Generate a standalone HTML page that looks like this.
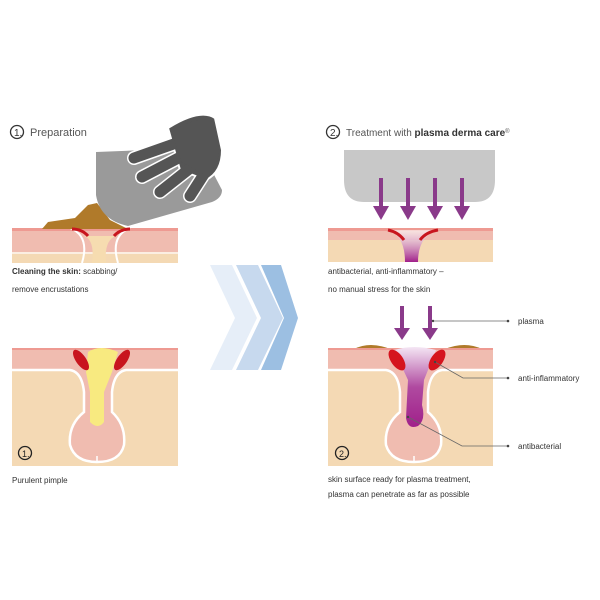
<!DOCTYPE html>
<html><head><meta charset="utf-8"><style>
body{margin:0;background:#fff;}
svg{display:block;font-family:"Liberation Sans",sans-serif;}
</style></head><body>
<svg width="600" height="600" viewBox="0 0 600 600" xmlns="http://www.w3.org/2000/svg">
<defs>
<linearGradient id="pl" x1="0" y1="0" x2="0" y2="1"><stop offset="0" stop-color="#fff" stop-opacity="0.6"/><stop offset="1" stop-color="#a0208a"/></linearGradient>
<linearGradient id="pl2" x1="0" y1="0" x2="0" y2="1"><stop offset="0" stop-color="#f4e6f4"/><stop offset="0.5" stop-color="#b04aa0"/><stop offset="1" stop-color="#a0208a"/></linearGradient>
</defs>

<circle cx="17" cy="132" r="6.5" fill="none" stroke="#333" stroke-width="1.3"/>
<text x="14" y="136" font-size="10" fill="#333">1.</text>
<text x="30" y="136" font-size="11" fill="#555">Preparation</text>
<circle cx="333" cy="132" r="6.5" fill="none" stroke="#333" stroke-width="1.3"/>
<text x="330" y="136" font-size="10" fill="#333">2.</text>
<text x="346" y="136" font-size="10" fill="#555">Treatment with <tspan font-weight="bold" fill="#333">plasma derma care</tspan><tspan font-size="6" dy="-3">®</tspan></text>

<rect x="12" y="228" width="166" height="35" fill="#f4d9b4"/>
<rect x="12" y="228" width="166" height="24" fill="#f0bcb0"/>
<rect x="12" y="228" width="166" height="3" fill="#ee9a92"/>
<rect x="12" y="252" width="166" height="2" fill="#fbeee2"/>
<path d="M84 236 Q95 240 92 263 L106 263 Q104 240 116 236 Z" fill="#f6dcb0"/>
<path d="M70 228 Q90 236 82 263" fill="none" stroke="#fff" stroke-width="2"/>
<path d="M130 228 Q110 236 118 263" fill="none" stroke="#fff" stroke-width="2"/>
<path d="M42 229 L48 222 L75 218 L88 205 L97 203 L110 220 L128 229 Z" fill="#b07a2a"/>
<path d="M72 229 Q82 229 88 236" fill="none" stroke="#c8151e" stroke-width="3"/>
<path d="M114 236 Q120 229 130 229" fill="none" stroke="#c8151e" stroke-width="3"/>
<path d="M96 152 L200 148 L222 190 Q222 198 212 202 L128 226 Q100 220 96 195 Z" fill="#9a9a9a"/>
<g stroke-linecap="round" fill="none">
<g stroke="#fff" stroke-width="14">
<path d="M185 140 L134 158"/><path d="M190 152 L142 177"/><path d="M198 162 L160 192"/><path d="M208 168 L190 196"/>
</g>
<path d="M168 128 Q200 108 215 118 L222 150 Q222 172 206 180 L180 170 Z" fill="#555" stroke="#fff" stroke-width="2"/>
<g stroke="#555" stroke-width="11">
<path d="M185 140 L134 158"/><path d="M190 152 L142 177"/><path d="M198 162 L160 192"/><path d="M208 168 L190 196"/>
</g>
<path d="M172 132 Q200 114 213 122 L219 150 Q218 168 205 175 L182 162 Z" fill="#555"/>
</g>

<text x="12" y="274" font-size="8" fill="#333"><tspan font-weight="bold">Cleaning the skin:</tspan> scabbing/</text>
<text x="12" y="292" font-size="8" fill="#333">remove encrustations</text>

<path d="M210 265 L232 265 L257 318 L232 370 L210 370 L235 318 Z" fill="#e6eef8"/>
<path d="M236 265 L258 265 L283 318 L258 370 L236 370 L261 318 Z" fill="#c7d9ee"/>
<path d="M261 265 L281 265 L298 318 L281 370 L261 370 L284 318 Z" fill="#9cbfe2"/>

<rect x="12" y="348" width="166" height="118" fill="#f4d9b4"/>
<rect x="12" y="348" width="166" height="22" fill="#f0bcb0"/>
<rect x="12" y="348" width="166" height="2" fill="#ee9a92"/>
<path d="M12 370 L70 370 Q82 372 84 392 L84 412 Q68 425 70 445 Q75 462 97 462 Q120 462 124 445 Q126 425 112 412 L112 392 Q114 372 126 370 L178 370" fill="#f0bcb0" stroke="#fff" stroke-width="2.5"/>
<path d="M97 462 L97 456" stroke="#fff" stroke-width="1.5"/>
<path d="M88 352 Q100 344 118 352 L112 372 L104 392 L104 422 Q98 430 90 422 L90 392 L86 372 Z" fill="#f8ea80"/>
<ellipse cx="81" cy="360" rx="5" ry="12" transform="rotate(-35 81 360)" fill="#c8151e"/>
<ellipse cx="122" cy="360" rx="5" ry="12" transform="rotate(35 122 360)" fill="#c8151e"/>
<circle cx="25" cy="453" r="6.5" fill="none" stroke="#222" stroke-width="1.3"/>
<text x="22" y="457" font-size="9" fill="#222">1.</text>
<text x="12" y="483" font-size="8" fill="#333">Purulent pimple</text>

<path d="M344 150 L495 150 L495 180 Q495 202 475 202 L364 202 Q344 202 344 180 Z" fill="#c8c8c8"/>
<g fill="#8a3a8a">
<rect x="379" y="178" width="4" height="30"/><path d="M373 206 L389 206 L381 220 Z"/>
<rect x="406" y="178" width="4" height="30"/><path d="M400 206 L416 206 L408 220 Z"/>
<rect x="433" y="178" width="4" height="30"/><path d="M427 206 L443 206 L435 220 Z"/>
<rect x="460" y="178" width="4" height="30"/><path d="M454 206 L470 206 L462 220 Z"/>
</g>
<rect x="328" y="228" width="165" height="34" fill="#f4d9b4"/>
<rect x="328" y="228" width="165" height="12" fill="#f0bcb0"/>
<rect x="328" y="228" width="165" height="3" fill="#ee9a92"/>
<path d="M388 230 Q405 236 405 262 L418 262 Q418 236 438 230 Z" fill="url(#pl)"/>
<path d="M388 230 Q398 232 404 240" fill="none" stroke="#c8151e" stroke-width="3"/>
<path d="M438 230 Q426 232 420 240" fill="none" stroke="#c8151e" stroke-width="3"/>
<text x="328" y="274" font-size="8" fill="#333">antibacterial, anti-inflammatory –</text>
<text x="328" y="292" font-size="8" fill="#333">no manual stress for the skin</text>

<g fill="#8a3a8a">
<rect x="400" y="306" width="4" height="24"/><path d="M394 328 L410 328 L402 340 Z"/>
<rect x="428" y="306" width="4" height="24"/><path d="M422 328 L438 328 L430 340 Z"/>
</g>
<rect x="328" y="348" width="165" height="118" fill="#f4d9b4"/>
<path d="M354 349 Q370 341 390 349 Z" fill="#b07a2a"/>
<path d="M445 349 Q465 341 482 349 Z" fill="#b07a2a"/>
<rect x="328" y="348" width="165" height="22" fill="#f0bcb0"/>
<rect x="328" y="348" width="165" height="2" fill="#ee9a92"/>
<path d="M328 370 L386 370 Q398 372 400 392 L400 412 Q384 425 386 445 Q391 462 414 462 Q437 462 441 445 Q443 425 428 412 L428 392 Q430 372 442 370 L493 370" fill="#f0bcb0" stroke="#fff" stroke-width="2.5"/>
<path d="M414 462 L414 456" stroke="#fff" stroke-width="1.5"/>
<path d="M394 350 Q414 344 436 350 L424 380 L422 405 Q426 420 418 426 Q408 430 406 418 L408 380 Z" fill="url(#pl2)"/>
<ellipse cx="397" cy="360" rx="6" ry="12" transform="rotate(-35 397 360)" fill="#d5141e"/>
<ellipse cx="437" cy="360" rx="6" ry="12" transform="rotate(35 437 360)" fill="#d5141e"/>
<circle cx="342" cy="453" r="6.5" fill="none" stroke="#222" stroke-width="1.3"/>
<text x="339" y="457" font-size="9" fill="#222">2.</text>
<g stroke="#666" stroke-width="0.8" fill="none">
<path d="M433 321 L508 321"/>
<path d="M435 362 L463 378 L508 378"/>
<path d="M408 417 L462 446 L508 446"/>
</g>
<g fill="#444"><circle cx="433" cy="321" r="1.2"/><circle cx="508" cy="321" r="1.3"/><circle cx="435" cy="362" r="1.2"/><circle cx="508" cy="378" r="1.3"/><circle cx="408" cy="417" r="1.2"/><circle cx="508" cy="446" r="1.3"/></g>
<text x="518" y="324" font-size="8" fill="#333">plasma</text>
<text x="518" y="381" font-size="8" fill="#333">anti-inflammatory</text>
<text x="518" y="449" font-size="8" fill="#333">antibacterial</text>
<text x="328" y="482" font-size="8" fill="#333">skin surface ready for plasma treatment,</text>
<text x="328" y="497" font-size="8" fill="#333">plasma can penetrate as far as possible</text>
</svg>
</body></html>
